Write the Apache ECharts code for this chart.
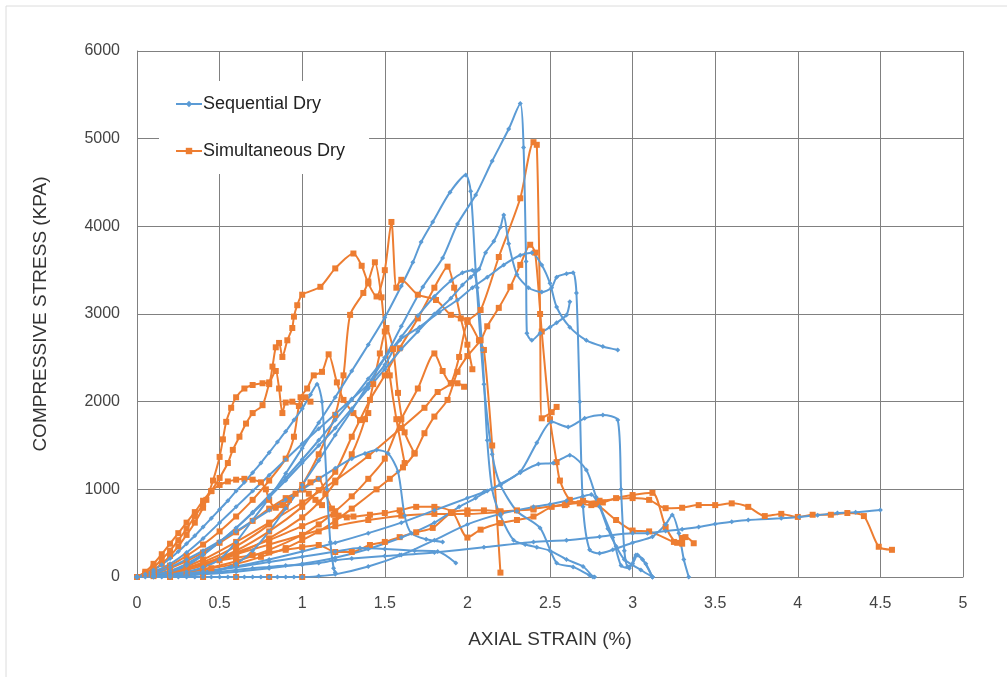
<!DOCTYPE html>
<html><head><meta charset="utf-8">
<script src="https://cdn.jsdelivr.net/npm/echarts@6/dist/echarts.min.js"></script>
<style>html,body{margin:0;padding:0;background:#fff}#c{width:1007px;height:677px}</style>
</head><body><div id="c"></div>
<script>
// ---- Sequential Dry (blue) curves: [axial strain %, compressive stress kPa]
const seq1 = [[0,0],[0.1,0],[0.2,10],[0.3,20],[0.4,40],[0.5,80],[0.6,150],[0.7,300],[0.8,520],[0.9,780],[1.0,1050],[1.1,1330],[1.2,1620],[1.3,1900],[1.4,2200],[1.5,2500],[1.6,2860],[1.73,3308],[1.85,3640],[1.94,4026],[2.05,4357],[2.15,4745],[2.25,5110],[2.32,5400],[2.34,4900],[2.355,3600],[2.36,2780],[2.39,2700],[2.44,2780],[2.5,2850],[2.54,2900],[2.6,2990],[2.62,3140]];
const seq2 = [[0,0],[0.1,10],[0.2,30],[0.3,60],[0.4,110],[0.5,200],[0.6,400],[0.7,650],[0.8,900],[0.9,1180],[1.0,1470],[1.1,1760],[1.2,2050],[1.3,2350],[1.4,2650],[1.5,2960],[1.6,3320],[1.67,3590],[1.72,3820],[1.79,4050],[1.895,4390],[1.99,4585],[2.02,4400],[2.05,3500],[2.1,2200],[2.15,1400],[2.2,1050],[2.3,750],[2.44,560],[2.54,160],[2.64,115],[2.74,20],[2.77,0]];
const seq3 = [[0,0],[0.1,20],[0.2,60],[0.3,130],[0.4,250],[0.5,400],[0.6,560],[0.7,730],[0.8,910],[0.9,1100],[1.0,1300],[1.1,1500],[1.2,1700],[1.3,1920],[1.4,2150],[1.5,2370],[1.6,2600],[1.7,2800],[1.8,3000],[1.9,3180],[1.97,3330],[2.02,3420],[2.07,3510],[2.11,3700],[2.16,3830],[2.2,3990],[2.22,4130],[2.25,3800],[2.3,3450],[2.37,3300],[2.45,3250],[2.51,3300],[2.54,3420],[2.6,3460],[2.64,3470],[2.66,3240],[2.68,2000],[2.7,800],[2.74,310],[2.8,270],[2.88,310],[3.0,390],[3.12,460],[3.2,600],[3.24,707],[3.28,500],[3.31,200],[3.34,0]];
const seq4 = [[0,0],[0.1,60],[0.2,150],[0.3,280],[0.4,440],[0.5,620],[0.6,800],[0.7,980],[0.8,1160],[0.9,1340],[1.0,1520],[1.1,1690],[1.2,1860],[1.3,2030],[1.4,2200],[1.5,2420],[1.59,2700],[1.71,2850],[1.83,3020],[1.94,3160],[2.03,3300],[2.12,3420],[2.22,3560],[2.32,3670],[2.39,3700],[2.45,3560],[2.5,3350],[2.54,3080],[2.62,2850],[2.72,2700],[2.82,2630],[2.91,2590]];
const seq5 = [[0,0],[0.05,30],[0.1,80],[0.15,140],[0.2,210],[0.25,290],[0.3,380],[0.35,470],[0.4,570],[0.45,670],[0.5,770],[0.55,870],[0.6,980],[0.65,1080],[0.7,1190],[0.75,1300],[0.8,1420],[0.85,1540],[0.9,1660],[0.95,1790],[1.0,1920],[1.05,2080],[1.09,2200],[1.12,2000],[1.15,1000],[1.17,400],[1.19,100],[1.2,50]];
const seq6 = [[0,0],[0.1,20],[0.2,70],[0.3,150],[0.4,260],[0.5,400],[0.6,560],[0.7,740],[0.8,930],[0.9,1130],[1.0,1340],[1.1,1560],[1.2,1790],[1.3,2020],[1.4,2260],[1.5,2500],[1.6,2740],[1.7,2980],[1.8,3200],[1.9,3380],[1.97,3470],[2.03,3500],[2.06,3300],[2.09,2590],[2.12,1560],[2.15,1000],[2.2,700],[2.28,420],[2.35,370],[2.42,340],[2.5,300],[2.6,200],[2.7,120],[2.76,0]];
const seq7 = [[0,0],[0.2,10],[0.4,30],[0.6,60],[0.8,100],[1.0,150],[1.2,220],[1.4,320],[1.6,450],[1.8,620],[1.95,800],[2.05,900],[2.12,980],[2.2,1060],[2.32,1200],[2.42,1530],[2.51,1770],[2.61,1710],[2.71,1810],[2.82,1848],[2.91,1790],[2.93,1000],[2.95,300],[2.97,120],[3.0,150],[3.03,250],[3.08,150],[3.12,0]];
const seq8 = [[0,0],[0.2,20],[0.4,60],[0.6,120],[0.8,200],[1.0,290],[1.2,390],[1.4,500],[1.6,620],[1.8,760],[2.0,900],[2.1,970],[2.2,1050],[2.32,1190],[2.43,1290],[2.52,1300],[2.62,1390],[2.72,1220],[2.78,910],[2.88,450],[2.93,130],[2.98,100],[3.02,250],[3.06,200],[3.12,0]];
const seq9 = [[0,0],[0.1,10],[0.2,20],[0.3,30],[0.4,45],[0.5,60],[0.6,80],[0.7,100],[0.8,115],[0.9,130],[1.0,140],[1.1,160],[1.2,190],[1.3,210],[1.5,240],[1.59,250],[1.8,280],[2.1,340],[2.4,400],[2.6,420],[2.8,460],[3.0,500],[3.09,500],[3.2,525],[3.3,545],[3.4,570],[3.5,605],[3.6,630],[3.7,650],[3.9,670],[4.01,685],[4.12,705],[4.24,730],[4.35,740],[4.5,765]];
const seq10 = [[0,0],[0.2,20],[0.4,60],[0.6,110],[0.8,170],[1.0,230],[1.2,290],[1.35,330],[1.5,320],[1.68,300],[1.82,290],[1.93,160]];
const seq11 = [[0,0],[0.05,0],[0.1,0],[0.15,0],[0.2,0],[0.25,0],[0.3,0],[0.35,0],[0.4,0],[0.45,0],[0.5,0],[0.55,0],[0.6,0],[0.65,0],[0.7,0],[0.75,0],[0.8,0],[0.85,0],[0.9,0],[0.95,0],[1.0,0],[1.1,10],[1.2,30],[1.4,120],[1.6,250],[1.8,420],[2.0,600],[2.2,720],[2.4,800],[2.5,830],[2.6,870],[2.7,920],[2.75,940],[2.8,800],[2.85,550],[2.9,350],[2.95,200],[3.05,80],[3.12,0]];
const seq12 = [[0,0],[0.1,40],[0.2,110],[0.3,200],[0.4,300],[0.5,410],[0.6,520],[0.7,640],[0.8,760],[0.9,880],[1.0,1000],[1.1,1120],[1.2,1240],[1.3,1350],[1.38,1410],[1.45,1450],[1.52,1410],[1.58,1200],[1.62,700],[1.66,500],[1.75,430],[1.85,400]];

// ---- Simultaneous Dry (orange) curves
const sim1 = [[0,0],[0.2,60],[0.4,200],[0.6,400],[0.8,620],[1.0,850],[1.2,1100],[1.4,1380],[1.6,1700],[1.74,1930],[1.82,2110],[1.9,2210],[1.95,2510],[2.0,2910],[2.08,3045],[2.19,3650],[2.32,4320],[2.4,4960],[2.42,4930],[2.44,3000],[2.45,1810],[2.51,1880],[2.54,1940]];
const sim2 = [[0,0],[0.1,10],[0.2,30],[0.3,50],[0.45,100],[0.6,150],[0.75,230],[0.9,330],[1.0,420],[1.1,520],[1.2,640],[1.3,780],[1.45,1000],[1.53,1120],[1.61,1250],[1.68,1410],[1.74,1640],[1.8,1830],[1.88,2020],[1.94,2340],[2.0,2520],[2.08,2700],[2.12,2860],[2.19,3070],[2.26,3310],[2.32,3560],[2.38,3790],[2.41,3700],[2.45,2800],[2.5,1800],[2.54,1310],[2.56,1100],[2.62,880],[2.68,840],[2.75,820],[2.82,850],[2.9,900],[3.0,935],[3.12,960],[3.2,570],[3.27,390],[3.3,445],[3.32,455],[3.37,385]];
const sim3 = [[0,0],[0.2,60],[0.4,150],[0.6,260],[0.8,370],[1.0,480],[1.2,580],[1.4,650],[1.6,700],[1.8,720],[2.0,720],[2.2,740],[2.4,780],[2.6,830],[2.8,870],[3.0,900],[3.1,880],[3.2,785],[3.3,790],[3.4,820],[3.5,820],[3.6,840],[3.7,800],[3.8,695],[3.9,720],[4.0,685],[4.09,710],[4.2,710],[4.3,730],[4.4,695],[4.49,345],[4.57,310]];
const sim4 = [[0,0],[0.05,30],[0.1,80],[0.15,150],[0.2,240],[0.25,350],[0.3,480],[0.35,620],[0.4,790],[0.42,880],[0.46,1100],[0.5,1370],[0.52,1570],[0.54,1770],[0.57,1930],[0.6,2050],[0.65,2150],[0.7,2190],[0.76,2210],[0.8,2220],[0.82,2400],[0.84,2620],[0.86,2670],[0.88,2510],[0.91,2700],[0.94,2840],[0.95,2970],[0.97,3100],[1.0,3220],[1.11,3310],[1.2,3520],[1.31,3690],[1.36,3550],[1.4,3350],[1.45,3200],[1.5,3500],[1.54,4050],[1.57,3300],[1.6,3390],[1.7,3220],[1.81,3160],[1.9,2990],[2.0,2930],[2.07,2700],[2.1,2590],[2.15,1500],[2.2,50]];
const sim5 = [[0,0],[0.05,40],[0.1,110],[0.15,200],[0.2,300],[0.25,420],[0.3,550],[0.35,690],[0.4,830],[0.45,980],[0.5,1130],[0.55,1300],[0.58,1450],[0.62,1600],[0.66,1750],[0.7,1870],[0.76,1960],[0.8,2200],[0.84,2350],[0.86,2150],[0.88,1870],[0.9,1990],[0.94,2000],[0.98,1950],[1.02,2050],[1.05,2000]];
const sim6 = [[0,0],[0.1,50],[0.2,130],[0.3,240],[0.4,370],[0.5,520],[0.6,690],[0.7,880],[0.8,1100],[0.9,1350],[0.95,1600],[0.99,2050],[1.03,2150],[1.07,2300],[1.12,2340],[1.16,2540],[1.21,2220],[1.25,2020],[1.31,1870],[1.35,1790],[1.4,1870]];
const sim7 = [[0,0],[0.2,40],[0.4,130],[0.6,260],[0.8,440],[1.0,680],[1.1,850],[1.2,1080],[1.3,1400],[1.38,1800],[1.43,2200],[1.47,2550],[1.51,2840],[1.55,2600],[1.58,2100],[1.62,1650],[1.68,1410]];
const sim8 = [[0,0],[0.2,50],[0.4,150],[0.6,300],[0.8,520],[1.0,800],[1.1,990],[1.2,1200],[1.3,1600],[1.41,2020],[1.5,2300],[1.59,2610],[1.7,2950],[1.8,3300],[1.88,3540],[1.92,3300],[1.96,2950],[2.0,2650],[2.03,2370]];
const sim9 = [[0,0],[0.2,30],[0.4,90],[0.6,180],[0.8,310],[1.0,480],[1.1,600],[1.2,750],[1.3,920],[1.4,1120],[1.5,1350],[1.6,1800],[1.7,2150],[1.8,2550],[1.85,2350],[1.9,2210],[1.94,2210],[1.98,2170]];
const sim10 = [[0,0],[0.05,60],[0.1,150],[0.15,260],[0.2,380],[0.25,500],[0.3,620],[0.35,740],[0.4,870],[0.45,980],[0.5,1050],[0.55,1090],[0.6,1110],[0.65,1120],[0.7,1110],[0.75,1080],[0.78,1000],[0.8,880],[0.84,790],[0.88,820],[0.92,880],[0.96,950],[1.0,1000],[1.04,950],[1.08,880],[1.12,820]];
const sim11 = [[0,0],[0.2,50],[0.4,150],[0.6,280],[0.8,420],[1.0,580],[1.19,710],[1.31,690],[1.41,710],[1.5,730],[1.59,760],[1.69,800],[1.8,800],[1.91,740],[2.0,450],[2.08,540],[2.2,615],[2.3,650],[2.4,690],[2.51,800],[2.59,820],[2.7,870],[2.78,830],[2.9,650],[3.0,530],[3.1,520],[3.25,400],[3.3,380]];
const sim12 = [[0,0],[0.1,30],[0.2,70],[0.3,110],[0.4,150],[0.5,190],[0.6,220],[0.7,250],[0.8,280],[0.9,310],[1.0,340],[1.1,365],[1.2,285],[1.3,285],[1.41,365],[1.5,400],[1.59,455],[1.69,510],[1.79,560],[1.9,730],[2.0,760],[2.1,760],[2.2,750],[2.3,760],[2.4,770]];
const sim13 = [[0,0],[0.2,0],[0.4,0],[0.6,0],[0.8,0],[1.0,0]];
const sim14 = [[0,0],[0.1,40],[0.2,100],[0.3,180],[0.4,280],[0.5,390],[0.6,510],[0.7,640],[0.8,780],[0.9,900],[1.0,1000],[1.05,1080],[1.1,1120],[1.14,950],[1.18,780],[1.22,700],[1.27,680]];
const sim15 = [[0,0],[0.2,50],[0.4,170],[0.6,350],[0.8,600],[0.9,800],[1.0,1050],[1.1,1400],[1.2,1850],[1.25,2300],[1.29,2990],[1.37,3240],[1.4,3370],[1.44,3590],[1.48,3190],[1.5,2800],[1.53,2300],[1.57,1800],[1.62,1300]];

const seqCurves = [seq1,seq2,seq3,seq4,seq5,seq6,seq7,seq8,seq9,seq10,seq11,seq12];
const simCurves = [sim1,sim2,sim3,sim4,sim5,sim6,sim7,sim8,sim9,sim10,sim11,sim12,sim13,sim14,sim15];

const BLUE = '#5B9BD5', ORANGE = '#ED7D31';
const series = [];
simCurves.forEach(d => series.push({
  name:'Simultaneous Dry', type:'line', data:d, smooth:0.25,
  symbol:'rect', symbolSize:6, color:ORANGE,
  lineStyle:{color:ORANGE,width:2}, itemStyle:{color:ORANGE}
}));
seqCurves.forEach(d => series.push({
  name:'Sequential Dry', type:'line', data:d, smooth:0.25,
  symbol:'diamond', symbolSize:5, color:BLUE,
  lineStyle:{color:BLUE,width:2}, itemStyle:{color:BLUE}
}));

const chart = echarts.init(document.getElementById('c'), null, {renderer:'canvas'});
chart.setOption({
  animation:false,
  backgroundColor:'#fff',
  graphic:[{type:'rect', shape:{x:6,y:6,width:1100,height:800}, style:{fill:'none',stroke:'#dcdcdc',lineWidth:1}, silent:true}],
  grid:{left:137,right:44,top:51,bottom:100},
  legend:{
    data:['Sequential Dry','Simultaneous Dry'],
    orient:'vertical', left:159, top:81,
    padding:[14,24,14,16], itemGap:29, itemWidth:26, itemHeight:8,
    backgroundColor:'#fff',
    textStyle:{fontFamily:'Liberation Sans',fontSize:18,color:'#222',padding:[0,0,0,-4]}
  },
  xAxis:{
    type:'value', min:0, max:5, interval:0.5,
    name:'AXIAL STRAIN (%)', nameLocation:'middle', nameGap:53,
    nameTextStyle:{fontFamily:'Liberation Sans',fontSize:19,color:'#333'},
    axisLine:{show:true,lineStyle:{color:'#808080',width:1}},
    axisTick:{show:false},
    axisLabel:{fontFamily:'Liberation Sans',fontSize:16,color:'#444',margin:19,
      formatter:v=>String(v)},
    splitLine:{show:true,lineStyle:{color:'#808080',width:1}}
  },
  yAxis:{
    type:'value', min:0, max:6000, interval:1000,
    name:'COMPRESSIVE STRESS (KPA)', nameLocation:'middle', nameGap:87,
    nameTextStyle:{fontFamily:'Liberation Sans',fontSize:19,color:'#333'},
    axisLine:{show:true,lineStyle:{color:'#808080',width:1}},
    axisTick:{show:false},
    axisLabel:{fontFamily:'Liberation Sans',fontSize:16,color:'#444',margin:17,
      formatter:v=>String(v)},
    splitLine:{show:true,lineStyle:{color:'#808080',width:1}}
  },
  series:series
});
</script>
</body></html>
